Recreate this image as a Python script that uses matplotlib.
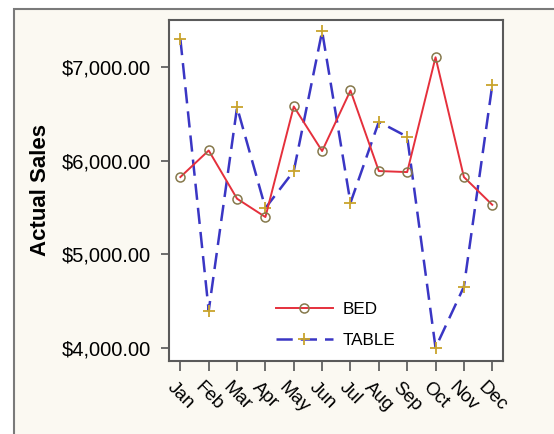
import matplotlib
matplotlib.use("Agg")
import matplotlib.pyplot as plt
from matplotlib.patches import Rectangle
from matplotlib.ticker import FuncFormatter

plt.rcParams['font.family'] = ['Liberation Sans', 'DejaVu Sans']

months = ["Jan", "Feb", "Mar", "Apr", "May", "Jun", "Jul", "Aug", "Sep", "Oct", "Nov", "Dec"]
bed = [5826, 6110, 5594, 5398, 6581, 6104, 6752, 5890, 5879, 7107, 5826, 5529]
table = [7303, 4396, 6572, 5494, 5890, 7385, 5550, 6417, 6257, 4000, 4652, 6807]
yticks = [4000, 5000, 6000, 7000]

fig = plt.figure(figsize=(5.54, 4.34), dpi=100, facecolor='white')
W, H = 554, 434
fig.add_artist(Rectangle((14 / W, -0.05), 1.2, 1 - 9 / H + 0.05, transform=fig.transFigure,
                         facecolor='#fbf9f2', edgecolor='#7a7a7a', linewidth=1.5, zorder=-10))

ax = fig.add_axes([169.3 / W, (H - 360.7) / H, 334 / W, 340.7 / H])
ax.set_facecolor('white')
x = list(range(len(months)))

ax.plot(x, bed, color='#e5303c', linewidth=1.4, marker='o', markersize=6.5,
        markerfacecolor='none', markeredgecolor='#86794c', markeredgewidth=1.1, label='BED', zorder=3)
ax.plot(x, table, color='#3a36c4', linewidth=1.8, linestyle=(0, (6.5, 3.2)), marker='+',
        markersize=8, markeredgecolor='#c9a42c', markeredgewidth=1.3, label='TABLE', zorder=2)

ax.set_xlim(-0.39, 11.39)
ax.set_ylim(3861, 7506)
ax.set_xticks(x)
ax.set_xticklabels(months, rotation=-45, ha='center', va='top', fontsize=13.5)
ax.set_yticks(yticks)
ax.yaxis.set_major_formatter(FuncFormatter(lambda v, p: "${:,.2f}".format(v)))
ax.tick_params(axis='y', length=6, width=1.2, color='#555555', pad=7, labelsize=14.5)
ax.tick_params(axis='x', length=7, width=1.2, color='#555555', pad=6)
for s in ax.spines.values():
    s.set_color('#5a5a5a')
    s.set_linewidth(1.5)

ax.set_ylabel('Actual Sales', fontsize=16, fontweight='bold', labelpad=8)

leg = ax.legend(loc='lower left', bbox_to_anchor=(0.32, 0.038), frameon=False, numpoints=1,
                handlelength=3.3, handletextpad=0.6, labelspacing=0.95, borderpad=0,
                borderaxespad=0, fontsize=12.3)

fig.savefig('out.png', dpi=100, facecolor=fig.get_facecolor())
